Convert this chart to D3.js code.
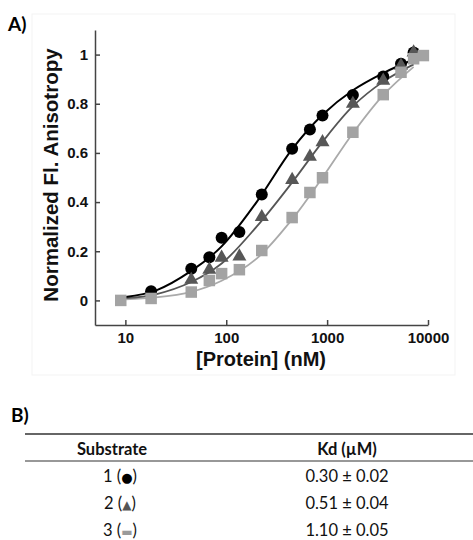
<!DOCTYPE html>
<html>
<head>
<meta charset="utf-8">
<script src="https://cdn.jsdelivr.net/npm/d3@7"></script>
<style>
  body { margin: 0; background: #fff; }
  svg { display: block; }
</style>
</head>
<body>
<div id="chart"></div>
<script>
// binding data
var circleX = [18, 45, 68, 90, 135, 225, 450, 675, 900, 1800, 3600, 5400, 7200];
var circleY = [0.037, 0.129, 0.176, 0.255, 0.278, 0.431, 0.617, 0.695, 0.752, 0.836, 0.911, 0.963, 1.008];

var triangleX = [45, 68, 90, 135, 225, 450, 675, 900, 1800, 3600, 5400, 7200];
var triangleY = [0.084, 0.125, 0.174, 0.179, 0.339, 0.490, 0.585, 0.644, 0.800, 0.894, 0.955, 1.009];

var squareX = [9, 18, 45, 68, 90, 135, 225, 450, 675, 900, 1800, 3600, 5400, 7200, 9000];
var squareY = [0, 0.008, 0.034, 0.081, 0.109, 0.125, 0.203, 0.337, 0.439, 0.499, 0.684, 0.837, 0.928, 0.983, 0.996];

// fitted curves
var fitX = [10, 20, 45, 90, 200, 450, 900, 1800, 3600, 7200];
var fitBlack = [0.014, 0.04, 0.12, 0.22, 0.40, 0.615, 0.755, 0.855, 0.925, 0.98];
var fitDark = [0.009, 0.025, 0.075, 0.15, 0.30, 0.48, 0.645, 0.79, 0.89, 0.96];
var fitLight = [0.004, 0.012, 0.035, 0.08, 0.17, 0.33, 0.50, 0.68, 0.835, 0.95];

var xTicks = [10, 100, 1000, 10000];
var yTicks = [0, 0.2, 0.4, 0.6, 0.8, 1];

// table
var tableHead = ["Substrate", "Kd (\u00b5M)"];
var substrates = ["1", "2", "3"];
var symbols = ["\u25cf", "\u25b2", "\u25ac"];
var kdValues = ["0.30 \u00b1 0.02", "0.51 \u00b1 0.04", "1.10 \u00b1 0.05"];

var W = 473, H = 540;
var svg = d3.select("#chart").append("svg")
    .attr("width", W)
    .attr("height", H);

// faint scan frame
svg.append("rect")
    .attr("x", 32).attr("y", 14)
    .attr("width", 423).attr("height", 361)
    .attr("fill", "none")
    .attr("stroke", "#f3f3f3");

var x = d3.scaleLog().domain([5, 10000]).range([95, 428]);
var y = d3.scaleLinear().domain([-0.1, 1.1]).range([325, 30]);

var axisFont = "'Liberation Sans', Arial, sans-serif";

// y axis
var gy = svg.append("g")
    .attr("transform", "translate(" + x.range()[0] + ",0)")
    .call(d3.axisLeft(y).tickValues(yTicks).tickFormat(d3.format("~g"))
        .tickSizeInner(-5).tickSizeOuter(0).tickPadding(7));
// x axis
var gx = svg.append("g")
    .attr("transform", "translate(0," + y.range()[0] + ")")
    .call(d3.axisBottom(x).tickValues(xTicks).tickFormat(d3.format("d"))
        .tickSizeInner(-5).tickSizeOuter(0).tickPadding(7));

[gx, gy].forEach(function(g) {
  g.select(".domain").attr("stroke", "#444").attr("stroke-width", 1.5);
  g.selectAll(".tick line").attr("stroke", "#444").attr("stroke-width", 1.5);
  g.selectAll(".tick text")
    .attr("fill", "#111")
    .style("font-family", axisFont)
    .style("font-weight", "bold")
    .style("font-size", "15px");
});

// axis titles
svg.append("text")
    .attr("transform", "translate(58,175) rotate(-90)")
    .attr("text-anchor", "middle")
    .style("font-family", axisFont)
    .style("font-weight", "bold")
    .style("font-size", "20.5px")
    .attr("fill", "#111")
    .text("Normalized Fl. Anisotropy");

svg.append("text")
    .attr("x", 261)
    .attr("y", 366)
    .attr("text-anchor", "middle")
    .style("font-family", axisFont)
    .style("font-weight", "bold")
    .style("font-size", "20px")
    .attr("fill", "#111")
    .text("[Protein] (nM)");

// panel labels
var labelFont = "Lato, 'Open Sans', sans-serif";
svg.append("text").attr("x", 8).attr("y", 31)
    .style("font-family", labelFont).style("font-weight", "bold").style("font-size", "19px")
    .text("A)");
svg.append("text").attr("x", 11).attr("y", 422)
    .style("font-family", labelFont).style("font-weight", "bold").style("font-size", "19px")
    .text("B)");

// fitted curves
function fitLine(ys) {
  return d3.line()
    .x(function(d, i) { return x(fitX[i]); })
    .y(function(d) { return y(d); })
    .curve(d3.curveCatmullRom)(ys);
}
svg.append("path").attr("d", fitLine(fitLight))
    .attr("fill", "none").attr("stroke", "#aaaaaa").attr("stroke-width", 1.8);
svg.append("path").attr("d", fitLine(fitDark))
    .attr("fill", "none").attr("stroke", "#555555").attr("stroke-width", 1.8);
svg.append("path").attr("d", fitLine(fitBlack))
    .attr("fill", "none").attr("stroke", "#000000").attr("stroke-width", 2);

// markers
svg.selectAll(".circ")
  .data(circleX)
  .enter()
  .append("circle")
    .attr("cx", function(d) { return x(d); })
    .attr("cy", function(d, i) { return y(circleY[i]); })
    .attr("r", 6)
    .attr("fill", "#000");

var tri = d3.symbol().type(d3.symbolTriangle).size(85);
svg.selectAll(".tri")
  .data(triangleX)
  .enter()
  .append("path")
    .attr("d", tri)
    .attr("transform", function(d, i) { return "translate(" + x(d) + "," + y(triangleY[i]) + ")"; })
    .attr("fill", "#575757");

var sq = 11.5;
svg.selectAll(".sq")
  .data(squareX)
  .enter()
  .append("rect")
    .attr("x", function(d) { return x(d) - sq / 2; })
    .attr("y", function(d, i) { return y(squareY[i]) - sq / 2; })
    .attr("width", sq)
    .attr("height", sq)
    .attr("fill", "#a3a3a3");

// table B
var tableFont = "Lato, 'Open Sans', sans-serif";
var colX = [112, 347];
var symColor = ["#000", "#555", "#9a9a9a"];

svg.append("line").attr("x1", 25).attr("x2", 473).attr("y1", 434).attr("y2", 434)
    .attr("stroke", "#333").attr("stroke-width", 1.5);
svg.append("line").attr("x1", 25).attr("x2", 473).attr("y1", 461).attr("y2", 461)
    .attr("stroke", "#333").attr("stroke-width", 1.2);

svg.selectAll(".head")
  .data(tableHead)
  .enter()
  .append("text")
    .attr("x", function(d, i) { return colX[i]; })
    .attr("y", 455)
    .attr("text-anchor", "middle")
    .style("font-family", tableFont)
    .style("font-weight", "bold")
    .style("font-size", "16.5px")
    .attr("fill", "#111")
    .text(function(d) { return d; });

var rowY = [482, 509, 536];
substrates.forEach(function(s, i) {
  var t = svg.append("text")
      .attr("x", colX[0] + 8)
      .attr("y", rowY[i])
      .attr("text-anchor", "middle")
      .style("font-family", tableFont)
      .style("font-size", "16.5px")
      .attr("fill", "#111");
  t.append("tspan").text(s + " (");
  t.append("tspan").attr("fill", symColor[i]).style("font-size", i == 0 ? "13px" : "12px")
      .style("font-family", "'DejaVu Sans', sans-serif").text(symbols[i]);
  t.append("tspan").text(")");

  svg.append("text")
      .attr("x", colX[1])
      .attr("y", rowY[i])
      .attr("text-anchor", "middle")
      .style("font-family", tableFont)
      .style("font-size", "16.5px")
      .attr("fill", "#111")
      .text(kdValues[i]);
});
</script>
</body>
</html>
